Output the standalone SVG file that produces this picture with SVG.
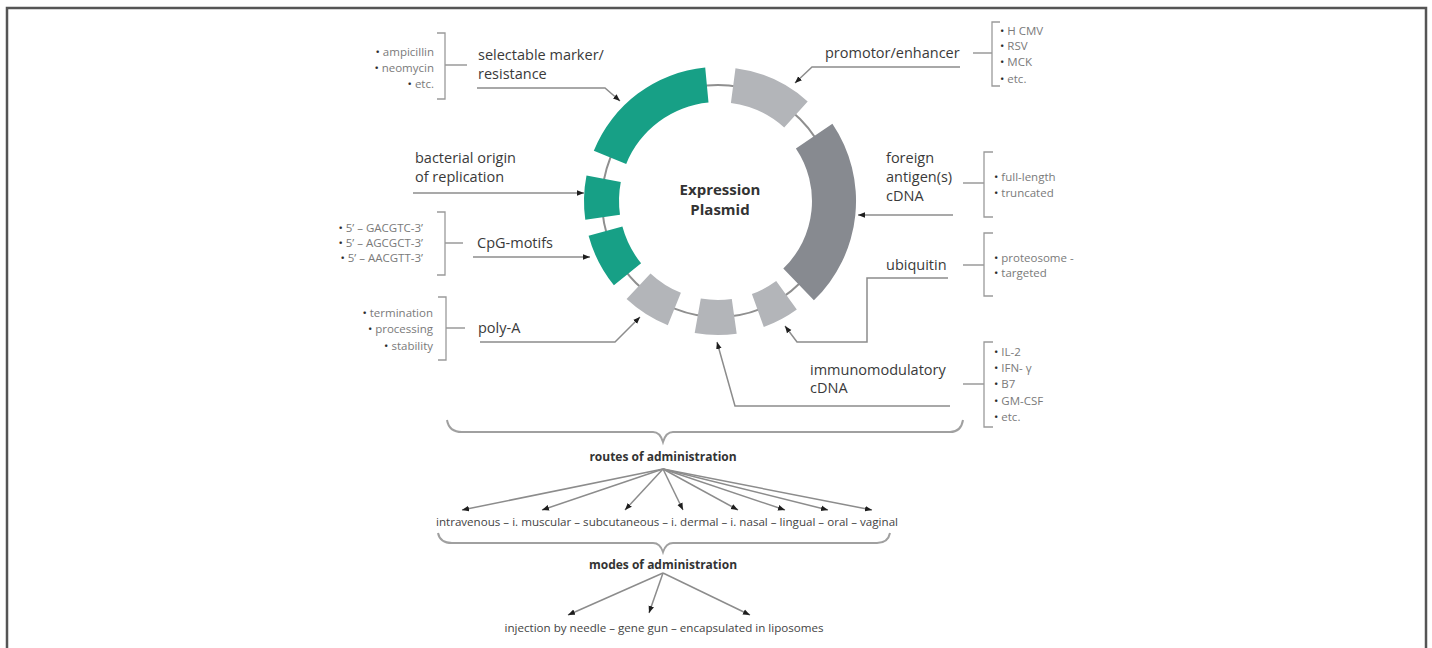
<svg xmlns="http://www.w3.org/2000/svg" width="1432" height="648" viewBox="0 0 1432 648">
<defs>
<marker id="ah" viewBox="0 0 10 10" refX="10" refY="5" markerWidth="7" markerHeight="7" markerUnits="userSpaceOnUse" orient="auto"><path d="M0,1 L10,5 L0,9 Z" fill="#1e1e1e"/></marker>
<style>
.lbl{font-family:"Open Sans","Noto Sans",sans-serif;font-size:14.5px;fill:#3a3a3a}
.bul{font-family:"Open Sans","Noto Sans",sans-serif;font-size:11.5px;fill:#7a7a7a}
.dot{fill:#2a2a2a}
.bold{font-family:"Open Sans","Noto Sans",sans-serif;font-weight:bold;fill:#333}
.rt{font-family:"Open Sans","Noto Sans",sans-serif;font-size:11.6px;fill:#444}
.br{fill:none;stroke:#9a9a9a;stroke-width:1.3}
.ld{fill:none;stroke:#8c8c8c;stroke-width:1.5;marker-end:url(#ah)}
.brace{fill:none;stroke:#a0a0a0;stroke-width:2}
.green{fill:#17a086}
.lg{fill:#b3b5b9}
.dg{fill:#878a90}
</style>
</defs>
<rect x="0" y="0" width="1432" height="648" fill="#fff"/>
<rect x="7" y="8" width="1419" height="700" fill="none" stroke="#555" stroke-width="2.5"/>

<g id="plasmid">
<circle cx="718" cy="201" r="116" fill="none" stroke="#8f8f8f" stroke-width="2"/>
<path class="green" d="M593.8,150.8 A134,134 0 0 1 705.2,67.6 L708.5,102.5 A99,99 0 0 0 626.2,163.9 Z"/>
<path class="lg" d="M735.5,68.2 A134,134 0 0 1 807.7,101.4 L784.2,127.4 A99,99 0 0 0 730.9,102.9 Z"/>
<path class="dg" d="M832.4,123.8 A138,138 0 0 1 813.9,300.3 L783.3,268.6 A94,94 0 0 0 795.9,148.4 Z"/>
<path class="lg" d="M796.8,309.4 A134,134 0 0 1 763.8,326.9 L751.9,294.0 A99,99 0 0 0 776.2,281.1 Z"/>
<path class="lg" d="M736.7,333.7 A134,134 0 0 1 694.7,333.0 L700.8,298.5 A99,99 0 0 0 731.8,299.0 Z"/>
<path class="lg" d="M667.8,325.2 A134,134 0 0 1 626.6,299.0 L650.5,273.4 A99,99 0 0 0 680.9,292.8 Z"/>
<path class="green" d="M613.9,285.3 A134,134 0 0 1 588.6,235.7 L622.4,226.6 A99,99 0 0 0 641.1,263.3 Z"/>
<path class="green" d="M585.3,219.7 A134,134 0 0 1 586.5,175.4 L620.8,182.1 A99,99 0 0 0 620.0,214.8 Z"/>
<text class="bold" font-size="15" text-anchor="middle" x="720" y="195">Expression</text>
<text class="bold" font-size="15" text-anchor="middle" x="720" y="215">Plasmid</text>
</g>

<g id="selectable">
<text class="bul" text-anchor="end" x="434" y="56"><tspan class="dot">•</tspan> ampicillin</text>
<text class="bul" text-anchor="end" x="434" y="72"><tspan class="dot">•</tspan> neomycin</text>
<text class="bul" text-anchor="end" x="434" y="88"><tspan class="dot">•</tspan> etc.</text>
<path class="br" d="M437,33 H445 V99 H437 M445,65 H467"/>
<text class="lbl" x="478" y="60">selectable marker/</text>
<text class="lbl" x="478" y="79">resistance</text>
</g>

<g id="promotor">
<text class="lbl" x="825" y="58">promotor/enhancer</text>
<path class="br" d="M973,53 H992 M1000,22 H992 V86 H1000"/>
<text class="bul" x="1000" y="35"><tspan class="dot">•</tspan> H CMV</text>
<text class="bul" x="1000" y="50"><tspan class="dot">•</tspan> RSV</text>
<text class="bul" x="1000" y="66"><tspan class="dot">•</tspan> MCK</text>
<text class="bul" x="1000" y="83"><tspan class="dot">•</tspan> etc.</text>
</g>

<g id="bacterial">
<text class="lbl" x="415" y="163">bacterial origin</text>
<text class="lbl" x="415" y="182">of replication</text>
</g>

<g id="cpg">
<text class="bul" text-anchor="end" x="423" y="232"><tspan class="dot">•</tspan> 5’ – GACGTC-3’</text>
<text class="bul" text-anchor="end" x="423" y="247"><tspan class="dot">•</tspan> 5’ – AGCGCT-3’</text>
<text class="bul" text-anchor="end" x="423" y="262"><tspan class="dot">•</tspan> 5’ – AACGTT-3’</text>
<path class="br" d="M437,212 H445 V275 H437 M445,243 H463"/>
<text class="lbl" x="477" y="248">CpG-motifs</text>
</g>

<g id="polya">
<text class="bul" text-anchor="end" x="433" y="317"><tspan class="dot">•</tspan> termination</text>
<text class="bul" text-anchor="end" x="433" y="333"><tspan class="dot">•</tspan> processing</text>
<text class="bul" text-anchor="end" x="433" y="350"><tspan class="dot">•</tspan> stability</text>
<path class="br" d="M438,297 H446 V360 H438 M446,328 H465"/>
<text class="lbl" x="478" y="333">poly-A</text>
</g>

<g id="foreign">
<text class="lbl" x="886" y="163">foreign</text>
<text class="lbl" x="886" y="182">antigen(s)</text>
<text class="lbl" x="886" y="201">cDNA</text>
<path class="br" d="M963,183 H984 M993,152 H984 V217 H993"/>
<text class="bul" x="994" y="181"><tspan class="dot">•</tspan> full-length</text>
<text class="bul" x="994" y="197"><tspan class="dot">•</tspan> truncated</text>
</g>

<g id="ubiquitin">
<text class="lbl" x="886" y="270">ubiquitin</text>
<path class="br" d="M963,265 H984 M993,233 H984 V296 H993"/>
<text class="bul" x="994" y="262"><tspan class="dot">•</tspan> proteosome -</text>
<text class="bul" x="994" y="277"><tspan class="dot">•</tspan> targeted</text>
</g>

<g id="immuno">
<text class="lbl" x="810" y="375">immunomodulatory</text>
<text class="lbl" x="810" y="393">cDNA</text>
<path class="br" d="M963,384 H984 M993,342 H984 V427 H993"/>
<text class="bul" x="994" y="356"><tspan class="dot">•</tspan> IL-2</text>
<text class="bul" x="994" y="372"><tspan class="dot">•</tspan> IFN- γ</text>
<text class="bul" x="994" y="388"><tspan class="dot">•</tspan> B7</text>
<text class="bul" x="994" y="405"><tspan class="dot">•</tspan> GM-CSF</text>
<text class="bul" x="994" y="421"><tspan class="dot">•</tspan> etc.</text>
</g>

<g id="routes">
<text class="bold" font-size="12" text-anchor="middle" x="663" y="461">routes of administration</text>
<text class="rt" text-anchor="middle" x="667" y="526">intravenous – i. muscular – subcutaneous – i. dermal – i. nasal – lingual – oral – vaginal</text>
</g>

<g id="modes">
<text class="bold" font-size="12" text-anchor="middle" x="663" y="569">modes of administration</text>
<text class="rt" text-anchor="middle" x="664" y="632" fill="#555">injection by needle – gene gun – encapsulated in liposomes</text>
</g>

<g id="connectors">
<polyline class="ld" points="477,88 605,88 620,101"/>
<polyline class="ld" points="960,67 812,67 795,83"/>
<polyline class="ld" points="413,193 584,193"/>
<polyline class="ld" points="473,257 590,257"/>
<polyline class="ld" points="480,342 615,342 640,317"/>
<polyline class="ld" points="953,215 858,215"/>
<polyline class="ld" points="948,278 867,278 867,342 797,342 785,326"/>
<polyline class="ld" points="950,406 735,406 717,342"/>
<path class="brace" d="M447,420 Q449,432 462,432 H653 Q660,432 663,442 Q666,432 673,432 H950 Q961,432 963,420"/>
<path class="brace" d="M438,533 Q440,543 452,543 H653 Q660,543 663,552 Q666,543 673,543 H877 Q888,543 890,533"/>
<line class="ld" x1="663" y1="469" x2="462" y2="510"/>
<line class="ld" x1="663" y1="469" x2="542" y2="510"/>
<line class="ld" x1="663" y1="469" x2="625" y2="510"/>
<line class="ld" x1="663" y1="469" x2="683" y2="510"/>
<line class="ld" x1="663" y1="469" x2="738" y2="510"/>
<line class="ld" x1="663" y1="469" x2="785" y2="510"/>
<line class="ld" x1="663" y1="469" x2="828" y2="510"/>
<line class="ld" x1="663" y1="469" x2="872" y2="510"/>
<line class="ld" x1="663" y1="573" x2="568" y2="615"/>
<line class="ld" x1="663" y1="573" x2="649" y2="613"/>
<line class="ld" x1="663" y1="573" x2="750" y2="615"/>
</g>
</svg>
